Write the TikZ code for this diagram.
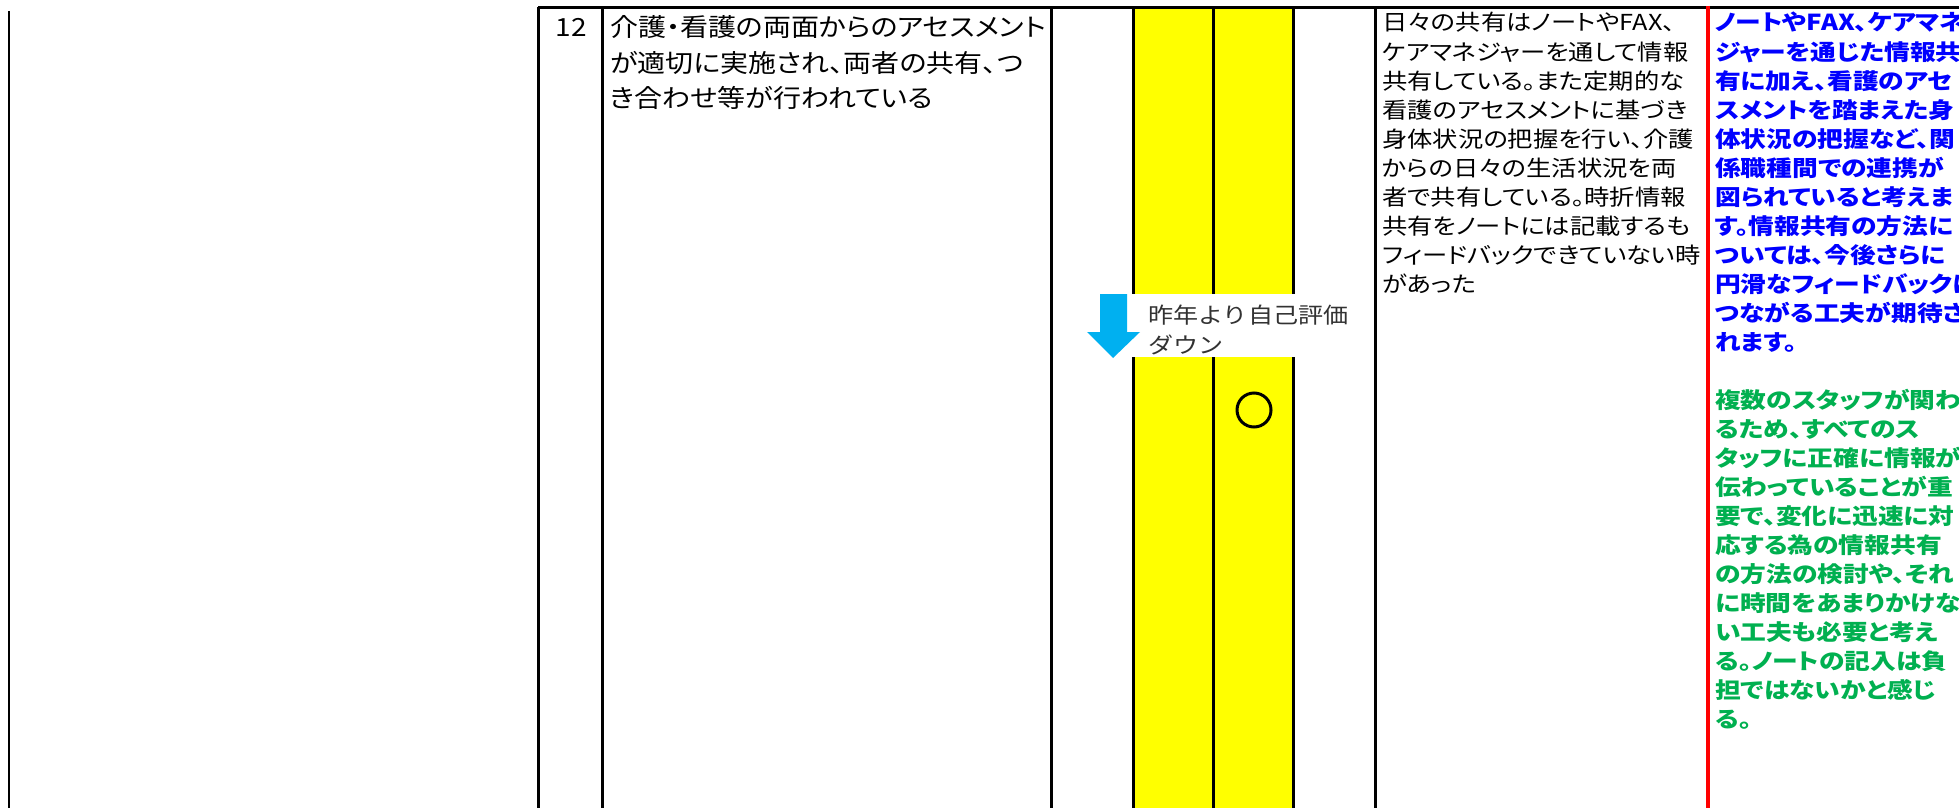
\documentclass[tikz,border=0pt]{standalone}
\usepackage{fontspec}
\newfontfamily\jpa[FakeStretch=1.12,RawFeature={+palt}]{Noto Sans CJK JP}
\newfontfamily\jp[FakeStretch=1.15,RawFeature={+palt}]{Noto Sans CJK JP}
\newfontfamily\jpc[FakeStretch=1.17,RawFeature={+palt}]{Noto Sans CJK JP}
\newfontfamily\jplab[FakeStretch=1.14]{Noto Sans CJK JP}
\definecolor{cellyellow}{RGB}{255,255,0}
\definecolor{arrowblue}{RGB}{0,176,240}
\definecolor{txtblue}{RGB}{0,0,255}
\definecolor{txtgreen}{RGB}{0,176,80}
\definecolor{labelgray}{RGB}{50,50,50}
\begin{document}
\begin{tikzpicture}[x=1pt,y=-1pt,
  rule/.style={line width=3pt,black},
  redrule/.style={line width=4pt,red},
  txt/.style={anchor=base west,inner sep=0pt,font=\jp\fontsize{22}{29}\selectfont},
  txta/.style={anchor=base west,inner sep=0pt,font=\jpa\fontsize{25}{35}\selectfont},
  bluetxt/.style={txt,text=txtblue,font=\jpc\bfseries\fontsize{22}{29}\selectfont},
  greentxt/.style={txt,text=txtgreen,font=\jpc\bfseries\fontsize{22}{29}\selectfont},
  labeltxt/.style={anchor=base west,inner sep=0pt,text=labelgray,font=\jplab\fontsize{22}{30}\selectfont}]
\useasboundingbox (0,0) rectangle (1959,808);
\fill[white] (0,0) rectangle (1959,808);
% yellow columns
\fill[cellyellow] (1133,9) rectangle (1293,808);
% rules
\draw[rule] (538,7.5) -- (1959,7.5);
\draw[line width=2.5pt] (9,11) -- (9,808);
\foreach \xx in {538,602,1051,1133,1213,1293,1375}
  \draw[rule] (\xx,7.5) -- (\xx,808);
\draw[redrule] (1708,6) -- (1708,808);
% column 1
\node[txta,anchor=base east] (num) at (587,37) {12};
\foreach \t [count=\i from 0] in {介護・看護の両面からのアセスメント,が適切に実施され、両者の共有、つ,き合わせ等が行われている}
  \node[txta] (a\i) at (610,{37+35*\i}) {\t};
% column 2
\foreach \t [count=\i from 0] in {日々の共有はノートやFAX、,ケアマネジャーを通して情報,共有している。また定期的な,看護のアセスメントに基づき,身体状況の把握を行い、介護,からの日々の生活状況を両,者で共有している。時折情報,共有をノートには記載するも,フィードバックできていない時,があった}
  \node[txt] (b\i) at (1382,{31+29*\i}) {\t};
% column 3 blue
\foreach \t [count=\i from 0] in {ノートやFAX、ケアマネ,ジャーを通じた情報共,有に加え、看護のアセ,スメントを踏まえた身,体状況の把握など、関,係職種間での連携が,図られていると考えま,す。情報共有の方法に,ついては、今後さらに,円滑なフィードバックに,つながる工夫が期待さ,れます。}
  \node[bluetxt] (c\i) at (1715,{31+29*\i}) {\t};
% column 3 green
\foreach \t [count=\i from 13] in {複数のスタッフが関わ,るため、すべてのス,タッフに正確に情報が,伝わっていることが重,要で、変化に迅速に対,応する為の情報共有,の方法の検討や、それ,に時間をあまりかけな,い工夫も必要と考え,る。ノートの記入は負,担ではないかと感じ,る。}
  \node[greentxt] (g\i) at (1715,{31+29*\i}) {\t};
% label box with arrow
\fill[white] (1129,294) rectangle (1361,357);
\fill[arrowblue] (1100,294) -- (1127,294) -- (1127,332) -- (1140,332) -- (1113,358) -- (1087,332) -- (1100,332) -- cycle;
\node[labeltxt] (lab1) at (1148,323) {昨年より自己評価};
\node[labeltxt] (lab2) at (1148,353) {ダウン};
% circle mark
\node[circle,draw,line width=3pt,minimum size=34pt,inner sep=0pt] (maru) at (1254,410) {};
\end{tikzpicture}
\end{document}
